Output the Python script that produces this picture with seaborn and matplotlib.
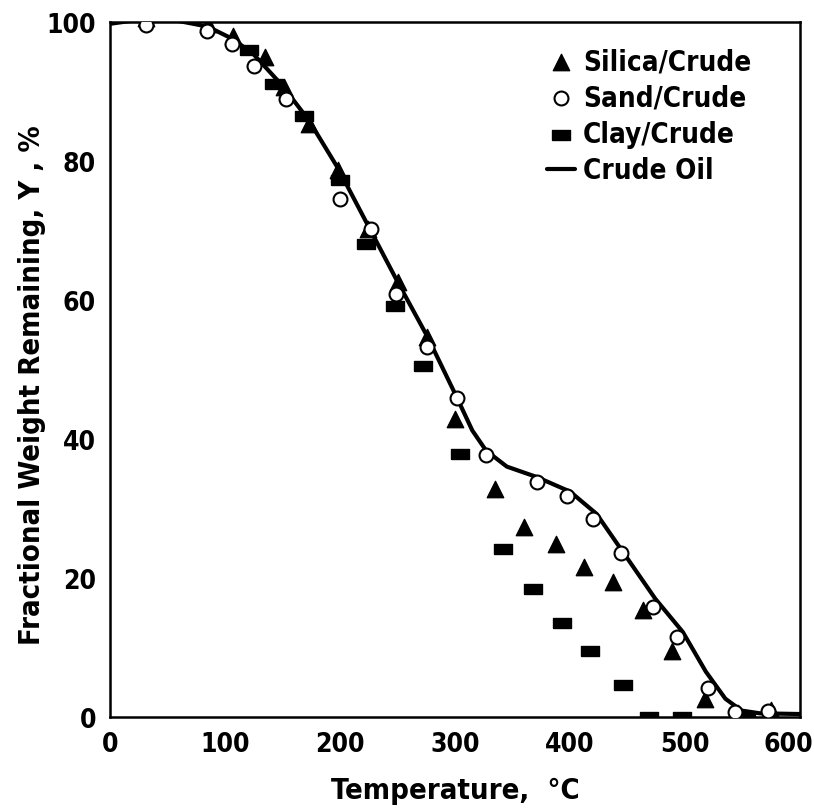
import matplotlib
matplotlib.use('Agg')
import matplotlib.pyplot as plt
from matplotlib.transforms import ScaledTranslation
import seaborn as sns

# data (temperature in C, weight remaining in %)
silica_temp = [31, 85, 107, 135, 151, 173, 198, 224, 250, 276, 300, 335, 360,
               388, 412, 437, 463, 489, 517, 546, 575]
silica_y = [100.6, 99.7, 98.0, 94.9, 90.6, 85.3, 78.6, 70.2, 62.6, 54.7, 42.9,
            32.8, 27.3, 24.9, 21.6, 19.4, 15.3, 9.5, 2.6, 0.5, 1.0]

sand_temp = [31, 84, 106, 125, 153, 200, 227, 249, 276, 302, 327, 371, 397,
             420, 444, 472, 493, 520, 543, 572]
sand_y = [99.5, 98.6, 96.8, 93.7, 88.9, 74.5, 70.2, 60.9, 53.2, 45.8, 37.6,
          33.8, 31.8, 28.5, 23.5, 15.8, 11.5, 4.2, 0.7, 0.9]

clay_temp = [121, 143, 169, 200, 223, 248, 272, 304, 342, 368, 393, 417, 446,
             469, 497, 553]
clay_y = [95.9, 91.1, 86.5, 77.2, 68.0, 59.1, 50.4, 37.8, 24.2, 18.4, 13.5,
          9.5, 4.6, 0.0, 0.0, 0.0]

crude_temp = [0, 30, 60, 85, 107, 125, 150, 173, 198, 224, 250, 276, 302, 315,
              327, 345, 371, 400, 423, 446, 474, 498, 518, 535, 549, 565, 600]
crude_y = [99.7, 100.4, 100.1, 99.3, 97.5, 95.3, 90.8, 85.8, 79.0, 70.8, 62.6,
           54.7, 45.8, 41.2, 38.3, 36.0, 34.5, 32.4, 29.2, 23.7, 17.0, 12.2,
           6.5, 2.6, 0.9, 0.5, 0.4]

x_ticks = [0, 100, 200, 300, 400, 500, 600]
y_ticks = [0, 20, 40, 60, 80, 100]

sns.set_theme(style='white')
plt.rcParams['font.family'] = ['DejaVu Sans']
plt.rcParams['font.stretch'] = 'condensed'
plt.rcParams['font.weight'] = 'bold'
plt.rcParams['axes.labelweight'] = 'bold'
plt.rcParams['text.color'] = 'black'
plt.rcParams['axes.labelcolor'] = 'black'

fig = plt.figure(figsize=(8.14, 8.12), dpi=100)
ax = fig.add_axes([0.135, 0.116, 0.848, 0.856])

sns.lineplot(x=crude_temp, y=crude_y, color='black', lw=3, sort=False,
             estimator=None, ax=ax, label='Crude Oil')
sns.scatterplot(x=silica_temp, y=silica_y, marker='^', color='black',
                edgecolor='black', s=140, ax=ax, label='Silica/Crude', zorder=3)
sns.scatterplot(x=sand_temp, y=sand_y, marker='o', facecolor='white',
                edgecolor='black', linewidth=1.5, s=100, ax=ax,
                label='Sand/Crude', zorder=4)
clay_marker = [(-1, -0.55), (1, -0.55), (1, 0.55), (-1, 0.55), (-1, -0.55)]
sns.scatterplot(x=clay_temp, y=clay_y, marker=clay_marker, color='black',
                edgecolor='black', s=150, ax=ax, label='Clay/Crude', zorder=3)

ax.set_xlim(0, 600)
ax.set_ylim(0, 100)
ax.set_xticks(x_ticks)
ax.set_yticks(y_ticks)
ax.tick_params(direction='in', length=21, width=1.5, labelsize=19,
               colors='black', pad=10)
for sp in ax.spines.values():
    sp.set_color('black')
    sp.set_linewidth(1.8)

# last x label sits a bit inside, as in the original
last = ax.get_xticklabels()[-1]
last.set_transform(last.get_transform() + ScaledTranslation(-0.12, 0, fig.dpi_scale_trans))

ax.set_xlabel('Temperature,  °C', fontsize=21, labelpad=14)
ax.set_ylabel('Fractional Weight Remaining, Y , %', fontsize=21)
ax.yaxis.set_label_coords(-0.093, 0.478)

handles, labels = ax.get_legend_handles_labels()
order = ['Silica/Crude', 'Sand/Crude', 'Clay/Crude', 'Crude Oil']
hmap = dict(zip(labels, handles))
ax.legend([hmap[k] for k in order], order, loc='upper right',
          bbox_to_anchor=(0.945, 0.979), frameon=False, fontsize=20,
          handlelength=1.0, handletextpad=0.3, labelspacing=0.3,
          borderaxespad=0)

plt.savefig('out.png', dpi=100)
